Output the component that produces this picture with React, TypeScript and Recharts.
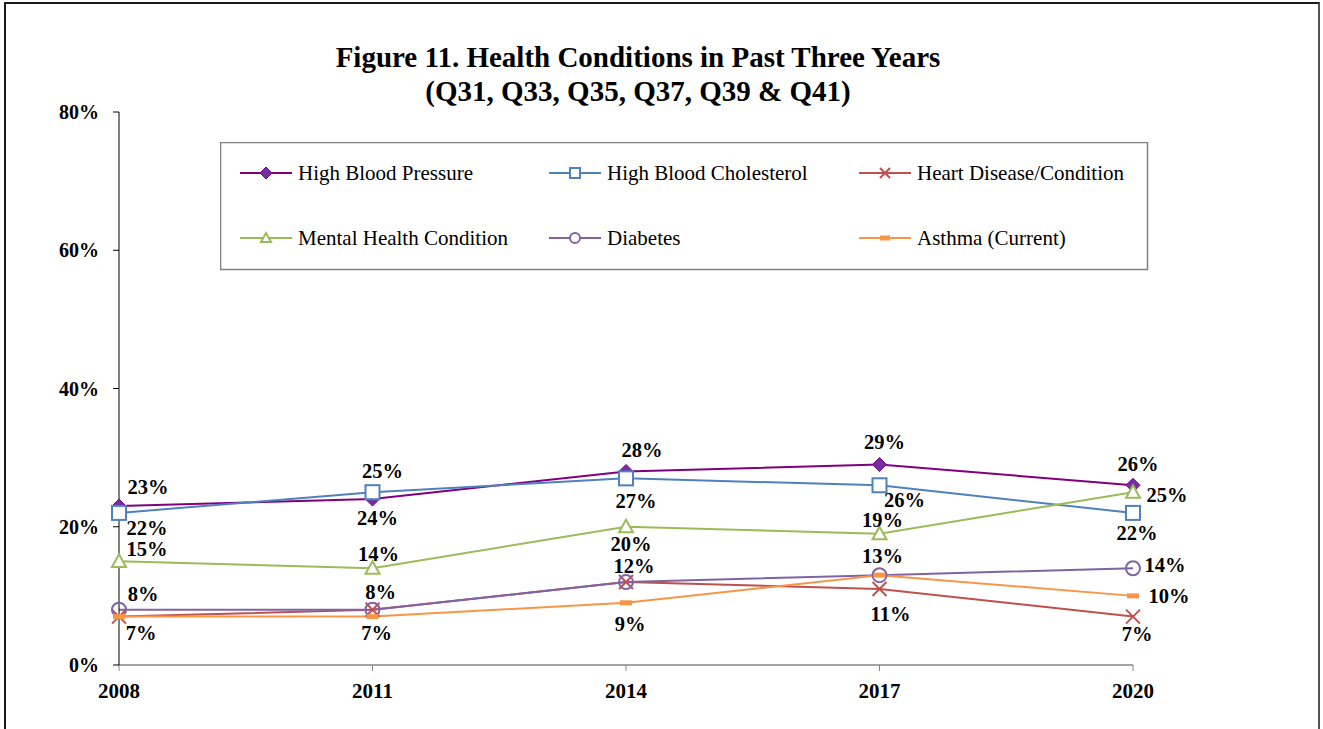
import React from 'react';
import { LineChart, Line, XAxis, YAxis, Legend, LabelList } from 'recharts';

const years = ['2008', '2011', '2014', '2017', '2020'];
const highBloodPressure = [23, 24, 28, 29, 26];
const highBloodCholesterol = [22, 25, 27, 26, 22];
const heartDisease = [7, 8, 12, 11, 7];
const mentalHealth = [15, 14, 20, 19, 25];
const diabetes = [8, 8, 12, 13, 14];
const asthma = [7, 7, 9, 13, 10];
const yTicks = [0, 20, 40, 60, 80];

const titleLine1 = 'Figure 11. Health Conditions in Past Three Years';
const titleLine2 = '(Q31, Q33, Q35, Q37, Q39 & Q41)';

const data = years.map((year, i) => ({
  year,
  hbp: highBloodPressure[i],
  hbc: highBloodCholesterol[i],
  heart: heartDisease[i],
  mental: mentalHealth[i],
  diabetes: diabetes[i],
  asthma: asthma[i],
}));

const FONT = '"Liberation Serif", "Times New Roman", Times, serif';

type Shape = 'diamond' | 'square' | 'x' | 'triangle' | 'circle' | 'dash';

// label placement (offset of label centre from point), null = not shown
const series: {
  key: string;
  name: string;
  color: string;
  fill: string;
  shape: Shape;
  offsets: ([number, number] | null)[];
}[] = [
  { key: 'hbp', name: 'High Blood Pressure', color: '#800080', fill: '#7030A0', shape: 'diamond',
    offsets: [[29, -19], [5, 19], [16, -21], [5, -23], [5, -21]] },
  { key: 'hbc', name: 'High Blood Cholesterol', color: '#4F81BD', fill: '#FFFFFF', shape: 'square',
    offsets: [[28, 15], [10, -21], [10, 23], [25, 15], [4, 20]] },
  { key: 'heart', name: 'Heart Disease/Condition', color: '#C0504D', fill: 'none', shape: 'x',
    offsets: [[22, 16], null, null, [11, 25], [4, 17]] },
  { key: 'mental', name: 'Mental Health Condition', color: '#9BBB59', fill: '#FFFFFF', shape: 'triangle',
    offsets: [[28, -12], [6, -14], [5, 17], [3, -14], [34, 3]] },
  { key: 'diabetes', name: 'Diabetes', color: '#8064A2', fill: 'none', shape: 'circle',
    offsets: [[24, -16], [8, -18], [8, -16], [3, -19], [32, -3]] },
  { key: 'asthma', name: 'Asthma (Current)', color: '#F79646', fill: '#F79646', shape: 'dash',
    offsets: [null, [4, 16], [4, 21], null, [36, 0]] },
];

function marker(shape: Shape, cx: number, cy: number, color: string, fill: string, s: number, key?: string) {
  switch (shape) {
    case 'diamond':
      return <path key={key} d={`M${cx},${cy - s}L${cx + s},${cy}L${cx},${cy + s}L${cx - s},${cy}Z`} fill={fill} stroke={color} strokeWidth={1} />;
    case 'square':
      return <rect key={key} x={cx - s} y={cy - s} width={2 * s} height={2 * s} fill={fill} stroke={color} strokeWidth={2} />;
    case 'x':
      return (
        <path key={key} d={`M${cx - s},${cy - s}L${cx + s},${cy + s}M${cx - s},${cy + s}L${cx + s},${cy - s}`} stroke={color} strokeWidth={2} fill="none" />
      );
    case 'triangle':
      return <path key={key} d={`M${cx},${cy - s}L${cx + s},${cy + s * 0.8}L${cx - s},${cy + s * 0.8}Z`} fill={fill} stroke={color} strokeWidth={2} />;
    case 'circle':
      return <circle key={key} cx={cx} cy={cy} r={s} fill={fill} stroke={color} strokeWidth={2} />;
    case 'dash':
    default:
      return <rect key={key} x={cx - s} y={cy - 2.5} width={2 * s} height={5} fill={fill} stroke="none" />;
  }
}

const makeDot = (shape: Shape, color: string, fill: string) => (props: any) => {
  const { cx, cy, index } = props;
  if (cx == null || cy == null) return <g key={`d-${index}`} />;
  return marker(shape, cx, cy, color, fill, shape === 'dash' ? 6 : 7, `d-${shape}-${index}`);
};

const makeLabel = (offsets: ([number, number] | null)[]) => (props: any) => {
  const { index, value } = props;
  const x = props.x ?? props.viewBox?.x;
  const y = props.y ?? props.viewBox?.y;
  const off = offsets[index];
  if (!off || x == null || y == null) return null;
  return (
    <text
      key={`l-${index}`}
      x={x + off[0]}
      y={y + off[1]}
      dy={7}
      textAnchor="middle"
      fontFamily={FONT}
      fontWeight="bold"
      fontSize={20.5}
      fill="#000"
    >
      {`${value}%`}
    </text>
  );
};

const legendCols = [20, 329, 639];
const legendRows = [31, 96];

const LegendBox = () => (
  <svg width={929} height={129} style={{ display: 'block' }}>
    <rect x={0.5} y={0.5} width={927} height={127} fill="#fff" stroke="#7F7F7F" strokeWidth={1.5} />
    {series.map((s, i) => {
      const x0 = legendCols[i % 3];
      const y0 = legendRows[Math.floor(i / 3)];
      return (
        <g key={s.key}>
          <line x1={x0} y1={y0} x2={x0 + 52} y2={y0} stroke={s.color} strokeWidth={2} />
          {marker(s.shape, x0 + 26, y0, s.color, s.fill === 'none' ? '#fff' : s.fill, s.shape === 'diamond' ? 6 : 5)}
          <text x={x0 + 58} y={y0} dy={7} fontFamily={FONT} fontSize={21} fill="#000">
            {s.name}
          </text>
        </g>
      );
    })}
  </svg>
);

export default function App() {
  return (
    <div style={{ position: 'absolute', left: 0, top: 0, width: 1323, height: 729, overflow: 'hidden', background: '#fff' }}>
      <div
        style={{
          position: 'absolute',
          left: 4,
          top: 2,
          width: 1312,
          height: 760,
          borderLeft: '2px solid #1a1a1a',
          borderTop: '2px solid #1a1a1a',
          borderRight: '2px solid #555',
        }}
      />
      <div style={{ position: 'absolute', left: 0, top: 0 }}>
        <LineChart width={1323} height={729} data={data} margin={{ top: 112, right: 190, bottom: 34, left: 59 }}>
          <XAxis
            dataKey="year"
            axisLine={{ stroke: '#868686', strokeWidth: 1.5 }}
            tickLine={{ stroke: '#868686' }}
            tickSize={6}
            tickMargin={12}
            height={30}
            tick={{ fill: '#000', fontSize: 21, fontWeight: 'bold', fontFamily: FONT }}
            interval={0}
          />
          <YAxis
            width={60}
            domain={[0, 80]}
            ticks={yTicks}
            tickFormatter={(v: number) => `${v}%`}
            axisLine={{ stroke: '#000' }}
            tickLine={{ stroke: '#000' }}
            tickSize={6}
            tickMargin={14}
            tick={{ fill: '#000', fontSize: 20, fontWeight: 'bold', fontFamily: FONT }}
            interval={0}
          />
          <Legend
            layout="horizontal"
            verticalAlign="middle"
            align="center"
            wrapperStyle={{ left: 220, top: 142, width: 929, height: 129 }}
            content={() => <LegendBox />}
          />
          {series.map((s) => (
            <Line
              key={s.key}
              type="linear"
              dataKey={s.key}
              name={s.name}
              stroke={s.color}
              strokeWidth={2}
              dot={makeDot(s.shape, s.color, s.fill)}
              activeDot={false}
              isAnimationActive={false}
            >
              <LabelList dataKey={s.key} content={makeLabel(s.offsets)} />
            </Line>
          ))}
        </LineChart>
      </div>
      <div
        style={{
          position: 'absolute',
          left: 0,
          width: 1276,
          top: 40,
          textAlign: 'center',
          fontFamily: FONT,
          fontWeight: 'bold',
          fontSize: 29,
          lineHeight: '34px',
          color: '#000',
        }}
      >
        <div>{titleLine1}</div>
        <div>{titleLine2}</div>
      </div>
    </div>
  );
}
